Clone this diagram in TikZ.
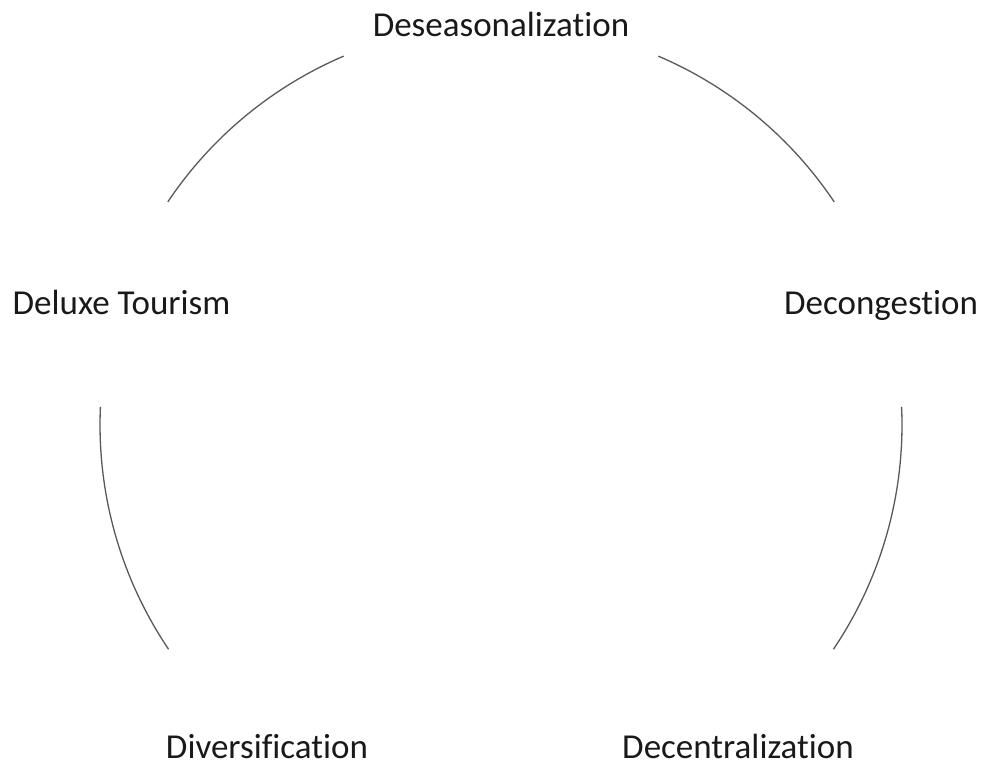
\documentclass[tikz,border=0pt]{standalone}
\usepackage{fontspec}
\setmainfont{Carlito}[Ligatures=NoCommon]
\begin{document}
\begin{tikzpicture}[x=1pt,y=1pt,
  lbl/.style={font=\fontsize{35}{40}\selectfont, text=black!90, inner sep=0pt, anchor=base},
  arcline/.style={draw=black!65, line width=1.3pt}]
\useasboundingbox (0,0) rectangle (982,767);
\coordinate (c) at (501,342);
\node[lbl] (des) at (501,730) {Deseasonalization};
\node[lbl] (dec) at (881,452) {Decongestion};
\node[lbl] (dcen) at (738,8) {Decentralization};
\node[lbl] (div) at (267,8) {Diversification};
\node[lbl] (del) at (121.5,452) {Deluxe Tourism};
\draw[arcline] ([shift={(113.1:401)}]c) arc (113.1:146.2:401);
\draw[arcline] ([shift={(66.9:401)}]c) arc (66.9:33.8:401);
\draw[arcline] ([shift={(177.4:401)}]c) arc (177.4:214:401);
\draw[arcline] ([shift={(2.6:401)}]c) arc (2.6:-34:401);
\end{tikzpicture}
\end{document}
